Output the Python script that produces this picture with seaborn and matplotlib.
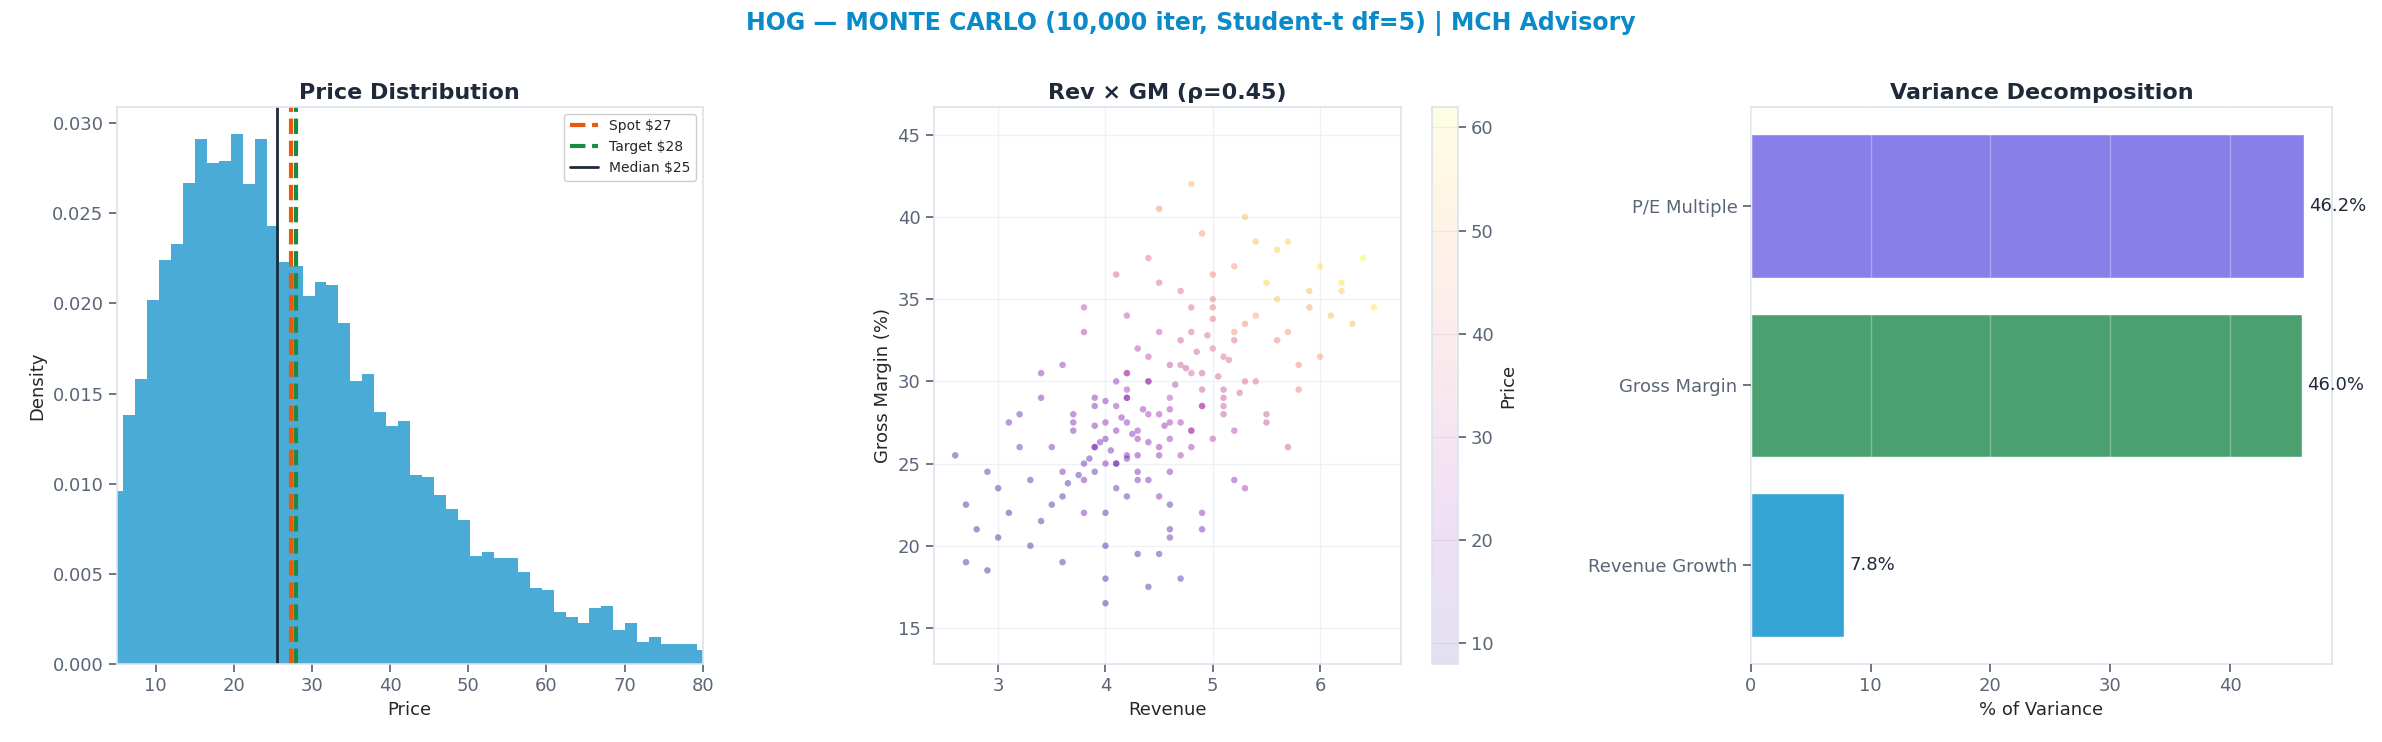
import matplotlib
matplotlib.use("Agg")
import matplotlib.pyplot as plt
import seaborn as sns
import numpy as np
import pandas as pd

# ---- data ----
bin_start = 4.31
bin_width = 1.53
hist_density = [0.0096, 0.0138, 0.0158, 0.0202, 0.0224, 0.0233, 0.0267, 0.0291, 0.0278, 0.0279,
                0.0294, 0.0266, 0.0291, 0.0243, 0.0223, 0.0221, 0.0204, 0.0212, 0.0210, 0.0189,
                0.0157, 0.0161, 0.0140, 0.0132, 0.0135, 0.0105, 0.0104, 0.0094, 0.0086, 0.0080,
                0.0060, 0.0062, 0.0059, 0.0059, 0.0051, 0.0042, 0.0041, 0.0029, 0.0026, 0.0023,
                0.0031, 0.0032, 0.0019, 0.0023, 0.0012, 0.0015, 0.0011, 0.0011, 0.0011, 0.0008]
spot_price = 27.3
target_price = 27.9
median_price = 25.5

rev = [4.2, 4.4, 4.0, 4.6, 4.8, 4.3, 3.9, 4.1, 4.5, 4.7, 5.0, 5.2, 4.9, 5.4, 5.6, 5.1, 5.3, 5.5,
       3.6, 3.8, 3.5, 3.7, 3.3, 3.4, 3.1, 3.0, 2.8, 2.7, 2.9, 3.2, 4.2, 4.0, 4.4, 4.6, 3.9, 4.1,
       4.3, 4.5, 4.8, 5.0, 5.7, 5.9, 6.0, 6.2, 5.8, 6.1, 6.4, 6.3, 5.6, 5.4, 5.2, 4.9, 4.7, 4.5,
       4.2, 3.8, 3.6, 3.4, 4.0, 4.3, 4.6, 4.1, 3.9, 4.4, 4.8, 5.1, 5.3, 5.0, 4.7, 4.2, 3.7, 3.5,
       3.2, 3.0, 2.7, 2.6, 2.9, 3.3, 3.6, 4.0, 4.5, 4.9, 5.2, 5.5, 5.8, 6.0, 5.7, 5.3, 4.9, 4.6,
       4.3, 4.1, 3.8, 4.0, 4.2, 4.4, 4.7, 5.0, 5.1, 4.8, 4.5, 4.2, 3.9, 3.7, 4.1, 4.3, 4.6, 4.9,
       5.2, 5.4, 5.6, 5.9, 6.2, 6.5, 3.1, 3.4, 3.8, 4.1, 4.5, 4.8, 5.3, 5.7, 4.0, 4.4, 4.7, 4.2,
       4.5, 3.9, 4.3, 4.6, 4.9, 5.1, 4.0, 3.6, 4.8, 5.5, 5.0, 4.4, 4.2, 3.8, 4.6, 5.2,
       4.15, 4.25, 4.35, 4.05, 4.55, 4.65, 4.75, 4.85, 4.95, 5.05, 5.15, 5.25, 3.95, 3.85, 3.75, 3.65,
       4.1, 4.3, 4.5, 4.7, 4.9, 5.1, 4.2, 4.4, 4.6, 4.8, 5.0, 3.9, 4.0, 4.2, 4.4, 4.6]
gm = [27.5, 28.0, 26.5, 29.0, 30.5, 25.5, 24.5, 27.0, 26.0, 31.0, 32.0, 33.0, 29.5, 34.0, 35.0, 31.5, 33.5, 36.0,
      23.0, 25.0, 22.5, 27.0, 24.0, 21.5, 22.0, 20.5, 21.0, 19.0, 24.5, 26.0, 23.0, 22.0, 24.0, 21.0, 29.0, 30.0,
      32.0, 33.0, 34.5, 36.5, 33.0, 35.5, 37.0, 36.0, 31.0, 34.0, 37.5, 33.5, 38.0, 38.5, 37.0, 39.0, 35.5, 36.0,
      34.0, 33.0, 31.0, 29.0, 20.0, 19.5, 22.5, 25.0, 28.5, 30.0, 27.0, 28.5, 30.0, 26.5, 25.5, 29.5, 28.0, 26.0,
      28.0, 23.5, 22.5, 25.5, 18.5, 20.0, 19.0, 18.0, 19.5, 21.0, 24.0, 27.5, 29.5, 31.5, 26.0, 23.5, 22.0, 24.5,
      26.5, 25.0, 24.0, 27.5, 29.0, 31.5, 32.5, 34.5, 28.0, 27.0, 23.0, 25.5, 26.0, 27.5, 28.5, 24.0, 27.5, 30.5,
      32.5, 30.0, 32.5, 34.5, 35.5, 34.5, 27.5, 30.5, 34.5, 36.5, 40.5, 42.0, 40.0, 38.5, 16.5, 17.5, 18.0, 30.5,
      28.0, 26.0, 27.0, 26.5, 28.5, 29.0, 25.0, 24.5, 26.0, 28.0, 35.0, 37.5, 30.5, 22.0, 20.5, 27.0,
      27.8, 26.8, 28.3, 25.8, 27.3, 29.8, 30.8, 31.8, 32.8, 30.3, 31.3, 29.3, 26.3, 25.3, 24.3, 23.8,
      23.5, 24.5, 25.5, 27.5, 28.5, 29.5, 29.0, 30.0, 31.0, 33.0, 33.8, 27.3, 28.8, 25.3, 26.3, 28.3]
price = [20, 24, 16, 28, 35, 17, 13, 19, 21, 33, 38, 44, 32, 47, 53, 37, 43, 55,
         11, 14, 10, 16, 11, 9, 8, 8, 8, 7, 11, 14, 13, 11, 15, 13, 18, 21,
         26, 30, 36, 43, 45, 52, 58, 58, 42, 52, 62, 52, 55, 52, 46, 45, 37, 35,
         30, 25, 22, 17, 9, 9, 13, 15, 18, 24, 26, 32, 35, 28, 25, 25, 20, 16,
         14, 10, 8, 9, 7, 8, 9, 10, 12, 15, 21, 31, 40, 46, 31, 24, 20, 20,
         21, 18, 16, 21, 24, 29, 32, 39, 30, 27, 19, 20, 18, 19, 23, 18, 24, 31,
         37, 35, 40, 48, 55, 58, 15, 21, 28, 33, 44, 50, 52, 55, 8, 10, 12, 28,
         24, 18, 22, 23, 28, 31, 18, 15, 24, 33, 40, 37, 28, 15, 14, 27,
         20, 19, 22, 16, 22, 27, 30, 33, 36, 33, 36, 33, 15, 13, 12, 11,
         14, 17, 19, 24, 27, 31, 21, 25, 29, 35, 38, 17, 20, 16, 19, 23]

components = ["P/E Multiple", "Gross Margin", "Revenue Growth"]
variance_pct = [46.2, 46.0, 7.8]
comp_colors = ["#8a7ee9", "#4aa16f", "#33a4d4"]

# ---- style ----
sns.set_theme(style="whitegrid")
plt.rcParams['font.family'] = ['DejaVu Sans']
plt.rcParams.update({
    "axes.edgecolor": "#dde3ec", "grid.color": "#eef1f5", "axes.linewidth": 1.2,
    "xtick.color": "#5a6678", "ytick.color": "#5a6678",
    "xtick.labelcolor": "#5a6678", "ytick.labelcolor": "#5a6678",
    "xtick.bottom": True, "ytick.left": True,
})
title_kw = dict(fontsize=16, fontweight="bold", color="#1e2a3a")
TS = 13

fig = plt.figure(figsize=(23.82, 7.42), dpi=100)
ax1 = fig.add_axes([0.049, 0.105, 0.246, 0.751])
ax2 = fig.add_axes([0.392, 0.105, 0.196, 0.751])
cax = fig.add_axes([0.601, 0.105, 0.011, 0.751])
ax3 = fig.add_axes([0.735, 0.105, 0.244, 0.751])

# Panel 1
edges = [bin_start + i * bin_width for i in range(len(hist_density) + 1)]
centers = [bin_start + (i + 0.5) * bin_width for i in range(len(hist_density))]
sns.histplot(x=centers, weights=hist_density, bins=edges, ax=ax1, color="#4aabd6",
             alpha=1.0, edgecolor="none", linewidth=0)
ax1.axvline(spot_price, color="#e8590c", ls="--", lw=3, label="Spot $27")
ax1.axvline(target_price, color="#1a8a45", ls="--", lw=3, label="Target $28")
ax1.axvline(median_price, color="#1e2a3a", lw=2, label="Median $25")
ax1.set_xlim(5, 80)
ax1.set_ylim(0, 0.0309)
ax1.set_xlabel("Price", fontsize=TS)
ax1.set_ylabel("Density", fontsize=TS)
ax1.set_title("Price Distribution", **title_kw)
ax1.tick_params(labelsize=TS)
ax1.legend(loc="upper right", fontsize=10, framealpha=1)
for g in ax1.get_xgridlines() + ax1.get_ygridlines():
    g.set_zorder(3)
ax1.grid(True, color="white", alpha=0.25)

# Panel 2
df = pd.DataFrame({"Revenue": rev, "GM": gm, "Price": price})
sc = ax2.scatter(df["Revenue"], df["GM"], c=df["Price"], cmap="plasma", vmin=8, vmax=62,
                 s=22, alpha=0.4, edgecolors="none")
ax2.set_xlim(2.4, 6.75)
ax2.set_ylim(12.8, 46.7)
ax2.set_xticks([3, 4, 5, 6])
ax2.set_xlabel("Revenue", fontsize=TS)
ax2.set_ylabel("Gross Margin (%)", fontsize=TS)
ax2.set_title("Rev × GM (ρ=0.45)", **title_kw)
ax2.tick_params(labelsize=TS)
cb = fig.colorbar(sc, cax=cax)
cb.solids.set_alpha(0.12)
cb.set_label("Price", fontsize=TS)
cb.ax.tick_params(labelsize=TS, colors="#5a6678")
cb.outline.set_edgecolor("#dde3ec")

# Panel 3
vdf = pd.DataFrame({"comp": components, "pct": variance_pct})
sns.barplot(data=vdf, y="comp", x="pct", hue="comp", palette=comp_colors, ax=ax3,
            legend=False, saturation=1, width=0.8)
for i, v in enumerate(variance_pct):
    ax3.text(v + 0.4, i, f"{v:.1f}%", va="center", fontsize=TS, color="#1e2a3a")
ax3.set_xlim(0, 48.5)
ax3.set_ylim(2.55, -0.55)
ax3.set_xlabel("% of Variance", fontsize=TS)
ax3.set_ylabel("")
ax3.set_title("Variance Decomposition", **title_kw)
ax3.tick_params(labelsize=TS)
ax3.grid(True, axis="x")
for g in ax3.get_xgridlines():
    g.set_zorder(3)
    g.set_color("white"); g.set_alpha(0.3)
ax3.set_axisbelow(False)
for p in ax3.patches:
    p.set_zorder(2)

fig.suptitle("HOG — MONTE CARLO (10,000 iter, Student-t df=5) | MCH Advisory",
             fontsize=17, fontweight="bold", color="#0a8ac8", y=0.985)
fig.savefig("out.png", dpi=100)
